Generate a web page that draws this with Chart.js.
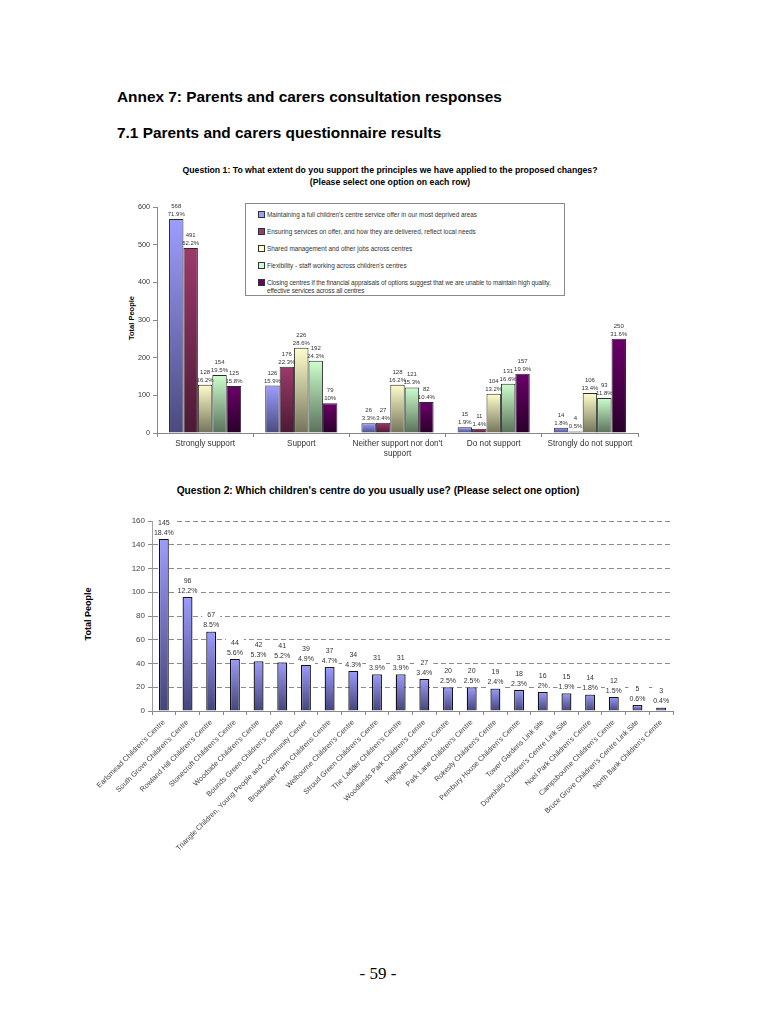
<!DOCTYPE html>
<html><head><meta charset="utf-8">
<script src="https://cdn.jsdelivr.net/npm/chart.js@4/dist/chart.umd.min.js"></script>
<style>
html,body{margin:0;padding:0;background:#fff;}
body{width:770px;height:1024px;position:relative;font-family:"Liberation Sans",Arial,sans-serif;color:#000;overflow:hidden;}
.abs{position:absolute;white-space:nowrap;}
.h{font-weight:bold;font-size:15.4px;left:117px;}
.ct{font-weight:bold;text-align:center;}
.ylab{font-weight:bold;transform:translate(-50%,-50%) rotate(-90deg);}
#legend{position:absolute;left:245px;top:203px;width:320px;height:93px;border:1px solid #8a8a8a;box-sizing:border-box;background:#fff;font-size:6.4px;color:#333;}
#legend .it{position:absolute;left:12px;white-space:nowrap;line-height:8px;}
#legend .sw{display:inline-block;width:5px;height:5px;border:1px solid #333;margin-right:2px;vertical-align:-1px;}
canvas{position:absolute;}
</style></head><body>

<div class="abs h" style="top:88px;">Annex 7: Parents and carers consultation responses</div>
<div class="abs h" style="top:124px;">7.1 Parents and carers questionnaire results</div>

<div class="abs ct" style="left:130px;width:520px;top:164px;font-size:8.7px;line-height:12px;">Question 1: To what extent do you support the principles we have applied to the proposed changes?<br>(Please select one option on each row)</div>
<div class="abs ylab" style="left:131px;top:318px;font-size:7.5px;">Total People</div>

<div style="position:absolute;left:100px;top:195px;width:560px;height:280px;"><canvas id="c1" width="560" height="280"></canvas></div>
<div id="legend"></div>

<div class="abs ct" style="left:100px;width:556px;top:485px;font-size:10.2px;">Question 2: Which children's centre do you usually use? (Please select one option)</div>
<div class="abs ylab" style="left:88px;top:614px;font-size:9px;">Total People</div>

<div style="position:absolute;left:60px;top:505px;width:630px;height:370px;"><canvas id="c2" width="630" height="370"></canvas></div>

<div class="abs" style="left:0;width:756px;text-align:center;top:964px;font-family:'Liberation Serif','Times New Roman',serif;font-size:17px;">- 59 -</div>

<script>
// ---------- Question 1 data ----------
const q1Categories = ["Strongly support", "Support", ["Neither support nor don't", "support"], "Do not support", "Strongly do not support"];
const q1SeriesNames = [
  "Maintaining a full children's centre service offer in our most deprived areas",
  "Ensuring services on offer, and how they are delivered, reflect local needs",
  "Shared management and other jobs across centres",
  "Flexibility - staff working across children's centres",
  "Closing centres if the financial appraisals of options suggest that we are unable to maintain high quality, effective services across all centres"
];
const q1Maintaining = [568, 126, 26, 15, 14];
const q1Ensuring = [491, 176, 27, 11, 4];
const q1Shared = [128, 226, 128, 104, 106];
const q1Flexibility = [154, 192, 121, 131, 93];
const q1Closing = [125, 79, 82, 157, 250];
const q1MaintainingPct = ["71.9%", "15.9%", "3.3%", "1.9%", "1.8%"];
const q1EnsuringPct = ["62.2%", "22.3%", "3.4%", "1.4%", "0.5%"];
const q1SharedPct = ["16.2%", "28.6%", "16.2%", "13.2%", "13.4%"];
const q1FlexibilityPct = ["19.5%", "24.3%", "15.3%", "16.6%", "11.8%"];
const q1ClosingPct = ["15.8%", "10%", "10.4%", "19.9%", "31.6%"];
const q1YTicks = [0, 100, 200, 300, 400, 500, 600];

// ---------- Question 2 data ----------
const q2Centres = [
  "Earlsmead Children's Centre", "South Grove Children's Centre", "Rowland Hill Children's Centre",
  "Stonecroft Children's Centre", "Woodside Children's Centre", "Bounds Green Children's Centre",
  "Triangle Children, Young People and Community Center", "Broadwater Farm Childrens Centre",
  "Welbourne Children's Centre", "Stroud Green Children's Centre", "The Ladder Children's Centre",
  "Woodlands Park Children's Centre", "Highgate Children's Centre", "Park Lane Children's Centre",
  "Rokesly Children's Centre", "Pembury House Children's Centre", "Tower Gardens Link site",
  "Downhills Children's Centre Link Site", "Noel Park Children's Centre", "Campsbourne Children's Centre",
  "Bruce Grove Children's Centre Link Site", "North Bank Children's Centre"
];
const q2Counts = [145, 96, 67, 44, 42, 41, 39, 37, 34, 31, 31, 27, 20, 20, 19, 18, 16, 15, 14, 12, 5, 3];
const q2Pct = ["18.4%", "12.2%", "8.5%", "5.6%", "5.3%", "5.2%", "4.9%", "4.7%", "4.3%", "3.9%", "3.9%", "3.4%", "2.5%", "2.5%", "2.4%", "2.3%", "2%", "1.9%", "1.8%", "1.5%", "0.6%", "0.4%"];
const q2YTicks = [0, 20, 40, 60, 80, 100, 120, 140, 160];

// ---------- styles ----------
const q1TopColors = ["#9d9dff", "#9c3a6b", "#ffffcc", "#ccffcc", "#6a006a"];
const q1BottomColors = ["#4a4a7e", "#4a1a33", "#73735a", "#5a705a", "#2a002a"];
const FONT = "'Liberation Sans', Arial, sans-serif";

function barGradient(top, bottom) {
  return function (c) {
    const chart = c.chart;
    const ys = chart.scales && chart.scales.y;
    if (!chart.chartArea || !ys || c.type !== 'data') return top;
    const y0 = ys.getPixelForValue(0), y1 = ys.getPixelForValue(c.raw);
    if (!isFinite(y0) || !isFinite(y1) || Math.abs(y0 - y1) < 0.5) return top;
    const g = chart.ctx.createLinearGradient(0, y1, 0, y0);
    g.addColorStop(0, top);
    g.addColorStop(1, bottom);
    return g;
  };
}

const valueLabels = {
  id: 'valueLabels',
  afterDatasetsDraw(chart, args, o) {
    if (!o || !o.pcts) return;
    const ctx = chart.ctx;
    ctx.save();
    ctx.font = o.fontSize + "px " + FONT;
    ctx.textAlign = 'center';
    ctx.textBaseline = 'alphabetic';
    chart.data.datasets.forEach((ds, i) => {
      const meta = chart.getDatasetMeta(i);
      meta.data.forEach((bar, j) => {
        const lines = [String(ds.data[j]), o.pcts[i][j]];
        const yPct = bar.y - o.gap;
        const yVal = yPct - o.lineH;
        if (o.bg) {
          ctx.fillStyle = '#fff';
          const w = Math.max(ctx.measureText(lines[0]).width, ctx.measureText(lines[1]).width) + 2;
          ctx.fillRect(bar.x - w / 2, yVal - o.fontSize, w, o.lineH * 2 + 1);
        }
        ctx.fillStyle = o.color;
        ctx.fillText(lines[0], bar.x, yVal);
        ctx.fillText(lines[1], bar.x, yPct);
      });
    });
    ctx.restore();
  }
};

// ---------- Chart 1 ----------
const q1Series = [q1Maintaining, q1Ensuring, q1Shared, q1Flexibility, q1Closing];
const q1Pcts = [q1MaintainingPct, q1EnsuringPct, q1SharedPct, q1FlexibilityPct, q1ClosingPct];

new Chart(document.getElementById('c1'), {
  type: 'bar',
  data: {
    labels: q1Categories,
    datasets: q1Series.map((d, i) => ({
      label: q1SeriesNames[i],
      data: d,
      backgroundColor: barGradient(q1TopColors[i], q1BottomColors[i]),
      borderColor: '#2a2a2a',
      borderWidth: 1,
      borderSkipped: 'bottom',
      categoryPercentage: 0.75,
      barPercentage: 1
    }))
  },
  options: {
    responsive: false,
    animation: false,
    events: [],
    layout: { padding: { top: 12, right: 22, left: 0, bottom: 0 } },
    plugins: {
      legend: { display: false },
      tooltip: { enabled: false },
      valueLabels: { pcts: q1Pcts, fontSize: 6, lineH: 8, gap: 3, color: '#333' }
    },
    scales: {
      x: {
        grid: { display: true, drawOnChartArea: false, drawTicks: true, tickLength: 4, color: '#888', offset: true },
        border: { display: true, color: '#888', width: 1 },
        ticks: { font: { size: 8.2, family: FONT }, color: '#333', maxRotation: 0, minRotation: 0, autoSkip: false, padding: 2 },
        afterFit: s => { s.height = 42; s.paddingLeft = 0; s.paddingRight = 0; }
      },
      y: {
        min: 0, max: 600,
        afterBuildTicks: s => { s.ticks = q1YTicks.map(v => ({ value: v })); },
        grid: { display: true, drawOnChartArea: false, drawTicks: true, tickLength: 4, color: '#888' },
        border: { display: true, color: '#888', width: 1 },
        ticks: { font: { size: 7.2, family: FONT }, color: '#333', padding: 3 },
        afterFit: s => { s.width = 57; }
      }
    }
  },
  plugins: [valueLabels]
});

// legend (HTML)
const legendTops = [7, 24, 41, 58, 75];
const lg = document.getElementById('legend');
q1SeriesNames.forEach((n, i) => {
  const d = document.createElement('div');
  d.className = 'it';
  d.style.top = legendTops[i] + 'px';
  if (i === 4) d.style.letterSpacing = '-0.08px';
  const txt = i === 4 ? "Closing centres if the financial appraisals of options suggest that we are unable to maintain high quality,<br><span style=\"padding-left:9px\">effective services across all centres</span>" : n;
  d.innerHTML = '<span class="sw" style="background:' + q1TopColors[i] + '"></span>' + txt;
  lg.appendChild(d);
});

// ---------- Chart 2 ----------
new Chart(document.getElementById('c2'), {
  type: 'bar',
  data: {
    labels: q2Centres,
    datasets: [{
      label: 'Total People',
      data: q2Counts,
      backgroundColor: barGradient('#9c9cff', '#44447a'),
      borderColor: '#111',
      borderWidth: 1.3,
      borderSkipped: 'bottom',
      categoryPercentage: 1,
      barPercentage: 0.42
    }]
  },
  options: {
    responsive: false,
    animation: false,
    events: [],
    layout: { padding: { top: 16, right: 17, left: 0, bottom: 0 } },
    plugins: {
      legend: { display: false },
      tooltip: { enabled: false },
      valueLabels: { pcts: [q2Pct], fontSize: 7, lineH: 10, gap: 4, color: '#333', bg: true }
    },
    scales: {
      x: {
        grid: { display: true, drawOnChartArea: false, drawTicks: true, tickLength: 4, color: '#888', offset: true },
        border: { display: true, color: '#888', width: 1 },
        ticks: { font: { size: 7.3, family: FONT }, color: '#444', maxRotation: 45, minRotation: 45, autoSkip: false, padding: 3 },
        afterFit: s => { s.height = 164; s.paddingLeft = 0; s.paddingRight = 0; }
      },
      y: {
        min: 0, max: 160,
        afterBuildTicks: s => { s.ticks = q2YTicks.map(v => ({ value: v })); },
        grid: {
          display: true, drawOnChartArea: true, drawTicks: true, tickLength: 4,
          color: c => (c.tick && c.tick.value === 0) ? 'rgba(0,0,0,0)' : '#8a8a8a',
          tickColor: '#888'
        },
        border: { display: true, color: '#999', width: 1, dash: [5, 3] },
        ticks: { font: { size: 8, family: FONT }, color: '#444', padding: 3 },
        afterFit: s => { s.width = 92; }
      }
    }
  },
  plugins: [valueLabels]
});
</script>
</body></html>
